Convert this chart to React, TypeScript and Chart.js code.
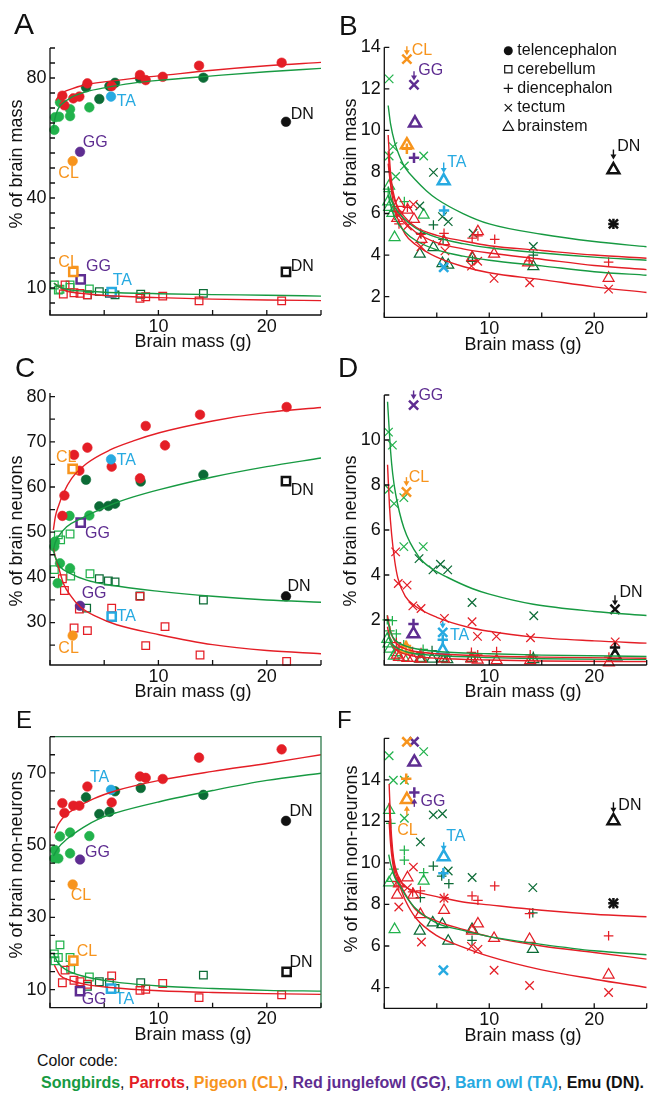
import React, { useEffect, useLayoutEffect, useRef } from 'react';
import { Chart, registerables } from 'chart.js';
Chart.register(...registerables);

type P = [number, number];
type Mk = 'circle' | 'rect' | 'cross' | 'crossRot' | 'triangle';

const FONT = '"Liberation Sans", Arial, Helvetica, sans-serif';
const RED = '#e41e26';
const LGREEN = '#22b24c';
const DGREEN = '#0c6b36';
const CGREEN = '#179a42';
const ORANGE = '#f7941d';
const PURPLE = '#5e2d91';
const BLUE = '#27aae1';
const BLACK = '#111111';
const FRAME = '#2f7a4c';

// ---------- axes ----------
const X_TICKS = [0, 5, 10, 15, 20, 25];
const X_LABELS = [10, 20];
const A_Y_TICKS = [5, 10, 15, 20, 25, 30, 35, 40, 45, 50, 55, 60, 65, 70, 75, 80, 85, 90];
const A_Y_LABELS = [10, 40, 80];
const B_Y_TICKS = [2, 4, 6, 8, 10, 12, 14];
const B_Y_LABELS = [2, 4, 6, 8, 10, 12, 14];
const C_Y_TICKS = [25, 30, 35, 40, 45, 50, 55, 60, 65, 70, 75, 80];
const C_Y_LABELS = [30, 40, 50, 60, 70, 80];
const D_Y_TICKS = [2, 4, 6, 8, 10, 12];
const D_Y_LABELS = [2, 4, 6, 8, 10];
const E_Y_TICKS = [10, 15, 20, 25, 30, 35, 40, 45, 50, 55, 60, 65, 70, 75, 80];
const E_Y_LABELS = [10, 30, 50, 70];
const F_Y_TICKS = [4, 6, 8, 10, 12, 14, 16];
const F_Y_LABELS = [4, 6, 8, 10, 12, 14];

// ---------- Panel A: % of brain mass (telencephalon / cerebellum) ----------
const A_telParrots: P[] = [[1.14, 74.1], [1.33, 70.9], [2.15, 73.2], [2.71, 73.8], [3.45, 78.2], [5.69, 77.3], [8.3, 81.0], [8.83, 79.3], [10.4, 80.4], [13.75, 84.1], [21.37, 85.1]];
const A_telSongLight: P[] = [[0.4, 62.7], [0.46, 66.9], [0.83, 67.1], [0.92, 71.9], [1.85, 69.6], [1.85, 67.3], [3.63, 70.2]];
const A_telSongDark: P[] = [[3.32, 76.9], [4.55, 73.0], [5.48, 77.3], [6.0, 78.4], [8.3, 79.9], [14.15, 80.1]];
const A_telCL: P[] = [[2.09, 52.3]];
const A_telGG: P[] = [[2.77, 55.4]];
const A_telTA: P[] = [[5.63, 73.8]];
const A_telDN: P[] = [[21.77, 65.4]];
const A_cbParrots: P[] = [[1.23, 8.0], [1.39, 11.0], [2.21, 8.4], [2.77, 8.2], [3.45, 7.7], [5.69, 8.2], [8.3, 6.6], [8.83, 7.1], [10.4, 7.3], [13.75, 5.7], [21.37, 5.7]];
const A_cbSongLight: P[] = [[0.4, 11.0], [0.77, 9.3], [0.92, 9.6], [1.85, 11.0], [1.85, 10.2], [3.63, 9.7]];
const A_cbSongDark: P[] = [[3.45, 7.7], [4.55, 8.8], [5.48, 8.2], [6.0, 7.7], [8.37, 7.9], [14.15, 8.2]];
const A_cbCL: P[] = [[2.15, 15.4]];
const A_cbGG: P[] = [[2.83, 12.9]];
const A_cbTA: P[] = [[5.69, 8.6]];
const A_cbDN: P[] = [[21.77, 15.4]];
const A_fitTelParrots: P[] = [[0.55, 72.5], [0.8, 74.0], [1.2, 75.2], [2, 76.4], [3.5, 77.9], [5, 78.7], [7.5, 79.8], [10, 80.7], [15, 82.6], [20, 84.1], [25, 85.2]];
const A_fitTelSong: P[] = [[0.3, 63.2], [0.45, 66.5], [0.7, 69.3], [1, 71.0], [2, 73.6], [3.5, 75.6], [5, 76.7], [7.5, 78.2], [10, 79.2], [15, 80.7], [20, 82.1], [25, 83.2]];
const A_fitCbSong: P[] = [[0.35, 11.6], [1, 10.1], [2, 9.3], [3.5, 8.9], [5, 8.6], [10, 8.1], [15, 7.8], [20, 7.6], [25, 7.3]];
const A_fitCbParrots: P[] = [[0.4, 11.6], [1, 10.0], [1.5, 9.0], [2, 8.6], [3.5, 8.0], [5, 7.5], [10, 6.8], [15, 6.3], [20, 6.0], [25, 5.8]];

// ---------- Panel B: % of brain mass (diencephalon / tectum / brainstem) ----------
const B_tectLight: P[] = [[0.46, 12.48], [0.46, 8.77], [0.83, 9.22], [1.08, 7.78], [1.91, 8.29], [3.75, 8.77]];
const B_dienLight: P[] = [[0.37, 7.05], [0.92, 6.1], [1.91, 6.57]];
const B_brainLight: P[] = [[0.37, 6.57], [0.46, 7.33], [0.46, 6.3], [0.77, 6.01], [0.98, 4.85], [3.75, 5.93]];
const B_tectDark: P[] = [[3.38, 6.36], [4.68, 7.98], [5.54, 5.85], [6.09, 5.61], [8.46, 5.05], [14.2, 4.41]];
const B_dienDark: P[] = [[3.45, 5.05], [4.68, 5.45], [5.6, 4.75], [8.4, 3.75], [14.2, 4.0]];
const B_brainDark: P[] = [[3.38, 4.05], [4.68, 4.37], [5.54, 3.6], [6.09, 3.52], [8.4, 3.85], [14.2, 3.45]];
const B_tectParrots: P[] = [[1.35, 5.9], [2.2, 5.4], [2.77, 6.44], [3.5, 4.4], [5.78, 4.2], [8.31, 3.47], [8.9, 3.7], [10.46, 2.88], [13.85, 2.67], [21.37, 2.36]];
const B_dienParrots: P[] = [[1.2, 6.1], [1.4, 5.5], [2.2, 6.3], [3.5, 5.0], [5.69, 5.05], [8.37, 4.81], [8.92, 4.92], [10.52, 4.76], [13.8, 3.72], [21.37, 3.66]];
const B_brainParrots: P[] = [[1.23, 5.77], [1.38, 6.49], [2.22, 6.17], [2.83, 5.72], [3.54, 4.76], [5.69, 4.65], [8.37, 3.89], [8.92, 5.13], [10.46, 4.05], [13.7, 3.63], [21.37, 2.89]];
const B_tectCL: P[] = [[2.15, 13.43]];
const B_dienCL: P[] = [[2.15, 9.12]];
const B_brainCL: P[] = [[2.15, 9.3]];
const B_tectGG: P[] = [[2.83, 12.2]];
const B_dienGG: P[] = [[2.83, 8.68]];
const B_brainGG: P[] = [[2.92, 10.35]];
const B_tectTA: P[] = [[5.66, 3.41]];
const B_dienTA: P[] = [[5.69, 6.14]];
const B_brainTA: P[] = [[5.66, 7.57]];
const B_tectDN: P[] = [[21.83, 5.5]];
const B_dienDN: P[] = [[21.83, 5.5]];
const B_brainDN: P[] = [[21.83, 8.1]];
const B_fitTectSong: P[] = [[0.37, 11.2], [0.6, 10.3], [1, 9.4], [1.5, 8.7], [2, 8.2], [3, 7.6], [4, 7.1], [5, 6.7], [7.5, 6.0], [10, 5.5], [15, 5.0], [20, 4.65], [25, 4.4]];
const B_fitDienParrots: P[] = [[0.37, 8.4], [0.6, 7.4], [1, 6.6], [2, 5.8], [3, 5.35], [5, 4.95], [7.5, 4.68], [10, 4.45], [15, 4.22], [20, 4.0], [25, 3.85]];
const B_fitDienSong: P[] = [[0.37, 7.3], [0.6, 6.8], [1, 6.3], [2, 5.7], [3, 5.3], [5, 4.85], [7.5, 4.55], [10, 4.35], [15, 4.1], [20, 3.9], [25, 3.75]];
const B_fitBrainParrots: P[] = [[0.37, 9.78], [0.5, 8.6], [0.7, 7.5], [1, 6.7], [2, 5.6], [3, 5.1], [5, 4.6], [7.5, 4.3], [10, 4.1], [15, 3.8], [20, 3.5], [25, 3.3]];
const B_fitBrainSong: P[] = [[0.37, 6.9], [0.6, 6.4], [1, 5.8], [2, 5.1], [3, 4.7], [5, 4.25], [7.5, 3.95], [10, 3.75], [15, 3.48], [20, 3.2], [25, 3.03]];
const B_fitTectParrots: P[] = [[0.37, 9.0], [0.5, 8.0], [0.7, 7.0], [1, 6.2], [2, 5.0], [3, 4.5], [5, 3.9], [7.5, 3.45], [10, 3.15], [15, 2.82], [20, 2.47], [25, 2.2]];

// ---------- Panel C: % of brain neurons (telencephalon / cerebellum) ----------
const C_telParrots: P[] = [[1.14, 53.6], [1.33, 58.1], [2.22, 67.1], [2.71, 63.6], [3.45, 68.7], [5.69, 64.5], [8.3, 61.9], [8.83, 73.5], [10.61, 69.2], [13.84, 76.0], [21.83, 77.7]];
const C_telSongLight: P[] = [[0.4, 46.8], [0.46, 47.9], [0.71, 38.7], [0.92, 43.1], [1.85, 42.0], [1.8, 53.6], [3.63, 53.7]];
const C_telSongDark: P[] = [[3.32, 61.6], [4.55, 55.7], [5.38, 55.8], [6.0, 56.3], [8.37, 61.2], [14.15, 62.7]];
const C_telCL: P[] = [[2.09, 27.1]];
const C_telGG: P[] = [[2.77, 33.7]];
const C_telTA: P[] = [[5.63, 66.1]];
const C_telDN: P[] = [[21.77, 35.8]];
const C_cbParrots: P[] = [[1.14, 39.7], [1.33, 37.1], [2.22, 28.8], [2.71, 33.0], [3.45, 28.2], [5.69, 33.2], [8.3, 35.8], [8.83, 24.9], [10.61, 29.1], [13.84, 22.8], [21.83, 21.4]];
const C_cbSongLight: P[] = [[0.4, 41.7], [0.77, 49.4], [0.98, 48.3], [1.85, 49.6], [1.91, 40.3], [3.69, 40.8]];
const C_cbSongDark: P[] = [[3.38, 33.2], [4.55, 39.7], [5.38, 39.2], [6.0, 39.0], [8.3, 35.9], [14.15, 35.0]];
const C_cbCL: P[] = [[2.09, 64.0]];
const C_cbGG: P[] = [[2.83, 52.1]];
const C_cbTA: P[] = [[5.69, 31.3]];
const C_cbDN: P[] = [[21.77, 61.3]];
const C_fitTelParrots: P[] = [[0.31, 50.5], [0.5, 53.5], [0.77, 55.7], [1.23, 58.6], [2, 61.9], [3.38, 65.2], [5.54, 68.2], [7.69, 70.2], [10.09, 72.0], [15, 74.6], [20, 76.5], [25, 77.6]];
const C_fitTelSong: P[] = [[0.31, 46.1], [0.5, 47.8], [0.77, 49.0], [1.54, 51.2], [2.77, 52.9], [3.69, 54.0], [5.54, 56.0], [7.69, 57.8], [10.09, 59.4], [15, 62.2], [20, 64.5], [25, 66.4]];
const C_fitCbSong: P[] = [[0.31, 46.0], [0.46, 44.6], [0.92, 42.4], [1.85, 40.9], [3.38, 39.4], [5.54, 38.3], [10.09, 36.9], [15, 35.8], [20, 35.0], [25, 34.5]];
const C_fitCbParrots: P[] = [[0.31, 46.5], [0.5, 44.5], [0.77, 42.4], [1.23, 38.7], [1.85, 36.1], [2.77, 33.5], [4.3, 31.3], [6.15, 29.5], [10.09, 27.3], [15, 25.1], [20, 23.8], [25, 23.1]];

// ---------- Panel D: % of brain neurons (diencephalon / tectum / brainstem) ----------
const D_tectLight: P[] = [[0.4, 10.35], [0.46, 7.81], [0.77, 9.77], [0.93, 7.17], [1.86, 7.44], [1.86, 5.26], [3.71, 5.26]];
const D_tectDark: P[] = [[3.31, 4.73], [4.64, 4.23], [5.35, 4.48], [6.04, 4.23], [8.36, 2.78], [14.24, 2.19]];
const D_tectParrots: P[] = [[1.08, 5.03], [1.33, 3.62], [2.17, 3.55], [2.72, 2.63], [3.5, 2.51], [5.73, 2.07], [8.36, 1.92], [8.88, 1.27], [10.68, 1.27], [13.93, 1.21], [22.0, 1.03]];
const D_dienLight: P[] = [[0.28, 2.01], [0.53, 1.52], [0.77, 1.97], [1.15, 1.38], [1.85, 0.9], [3.7, 0.7]];
const D_dienDark: P[] = [[3.4, 0.5], [4.55, 0.64], [5.5, 0.55], [6.0, 0.45], [8.3, 0.39], [14.2, 0.39]];
const D_dienParrots: P[] = [[1.15, 1.0], [1.4, 0.8], [2.2, 0.75], [2.7, 0.6], [3.5, 0.55], [5.7, 0.6], [8.3, 0.56], [8.9, 0.45], [10.7, 0.6], [13.9, 0.45], [21.4, 0.35]];
const D_brainLight: P[] = [[0.28, 1.15], [0.4, 0.95], [0.53, 0.71], [0.9, 0.4], [1.15, 0.56], [1.83, 0.34], [3.6, 0.3]];
const D_brainDark: P[] = [[3.4, 0.27], [4.55, 0.27], [5.5, 0.3], [6.0, 0.25], [8.3, 0.3], [14.2, 0.25]];
const D_brainParrots: P[] = [[1.2, 0.45], [1.4, 0.35], [2.2, 0.3], [2.7, 0.3], [3.5, 0.27], [5.7, 0.27], [8.3, 0.27], [8.9, 0.22], [10.7, 0.2], [13.9, 0.2], [21.4, 0.1]];
const D_tectCL: P[] = [[2.11, 7.69]];
const D_dienCL: P[] = [[2.07, 0.85]];
const D_brainCL: P[] = [[2.07, 0.71]];
const D_tectGG: P[] = [[2.79, 11.55]];
const D_dienGG: P[] = [[2.78, 1.82]];
const D_brainGG: P[] = [[2.78, 1.38]];
const D_tectTA: P[] = [[5.57, 1.45]];
const D_dienTA: P[] = [[5.57, 1.12]];
const D_brainTA: P[] = [[5.57, 0.64]];
const D_tectDN: P[] = [[21.98, 2.48]];
const D_dienDN: P[] = [[21.98, 0.78]];
const D_brainDN: P[] = [[21.98, 0.41]];
const D_fitTectSong: P[] = [[0.31, 11.7], [0.45, 10.6], [0.6, 9.5], [0.8, 8.5], [1.08, 7.6], [1.86, 6.1], [3.3, 4.8], [4.6, 4.26], [6, 3.9], [8.36, 3.4], [10, 3.15], [14.2, 2.7], [20, 2.38], [25, 2.2]];
const D_fitTectParrots: P[] = [[0.31, 8.9], [0.5, 7.0], [0.7, 5.8], [1, 4.6], [1.3, 3.85], [2, 3.05], [3, 2.6], [5, 2.12], [8, 1.68], [10, 1.5], [14, 1.25], [20, 1.07], [25, 0.97]];
const D_fitDienSong: P[] = [[0.3, 2.0], [0.6, 1.45], [1, 1.12], [2, 0.85], [3, 0.72], [5, 0.6], [10, 0.5], [15, 0.44], [25, 0.38]];
const D_fitDienParrots: P[] = [[0.3, 2.2], [0.6, 1.5], [1, 1.05], [2, 0.72], [3, 0.6], [5, 0.5], [10, 0.4], [15, 0.35], [25, 0.3]];
const D_fitBrainSong: P[] = [[0.3, 1.45], [0.6, 1.05], [1, 0.82], [2, 0.6], [3, 0.5], [5, 0.42], [10, 0.33], [15, 0.28], [25, 0.24]];
const D_fitBrainParrots: P[] = [[0.3, 1.7], [0.6, 1.05], [1, 0.72], [2, 0.48], [3, 0.38], [5, 0.3], [10, 0.22], [15, 0.18], [25, 0.15]];

// ---------- Panel E: % of brain non-neurons (telencephalon / cerebellum) ----------
const E_telParrots: P[] = [[1.14, 61.6], [1.33, 58.9], [2.15, 60.9], [2.71, 60.9], [3.45, 66.2], [5.69, 61.8], [8.3, 69.0], [8.83, 68.6], [10.4, 68.3], [13.75, 74.2], [21.37, 76.5]];
const E_telSongLight: P[] = [[0.4, 46.3], [0.46, 48.6], [0.77, 46.3], [0.92, 52.4], [1.85, 53.5], [1.85, 47.7], [3.63, 52.5]];
const E_telSongDark: P[] = [[3.32, 63.2], [4.55, 58.6], [5.48, 59.2], [6.0, 64.9], [8.37, 65.8], [14.15, 63.9]];
const E_telCL: P[] = [[2.09, 39.1]];
const E_telGG: P[] = [[2.77, 46.0]];
const E_telTA: P[] = [[5.63, 65.3]];
const E_telDN: P[] = [[21.77, 56.7]];
const E_cbParrots: P[] = [[1.14, 11.9], [1.39, 15.4], [2.21, 12.6], [2.77, 12.2], [3.45, 11.5], [5.69, 13.8], [8.3, 9.8], [8.83, 10.1], [10.4, 11.7], [13.75, 7.8], [21.37, 8.6]];
const E_cbSongLight: P[] = [[0.4, 19.9], [0.46, 18.0], [0.77, 18.9], [0.92, 22.4], [1.85, 18.9], [1.91, 15.6], [3.63, 13.5]];
const E_cbSongDark: P[] = [[3.45, 10.9], [4.55, 12.2], [5.48, 11.9], [6.0, 10.3], [8.37, 11.9], [14.15, 14.0]];
const E_cbCL: P[] = [[2.15, 18.0]];
const E_cbGG: P[] = [[2.77, 9.6]];
const E_cbTA: P[] = [[5.63, 10.3]];
const E_cbDN: P[] = [[21.83, 14.9]];
const E_fitTelParrots: P[] = [[0.4, 53.3], [0.77, 55.8], [1.38, 58.1], [2.46, 60.4], [4, 62.8], [6.15, 65.1], [10.09, 67.9], [15, 70.4], [20, 72.6], [25, 75.0]];
const E_fitTelSong: P[] = [[0.31, 47.0], [0.77, 49.3], [1.54, 51.6], [3.08, 54.9], [4.61, 57.4], [6.15, 59.0], [10.09, 62.0], [15, 65.1], [20, 67.9], [25, 69.9]];
const E_fitCbSong: P[] = [[0.31, 20.0], [0.77, 17.3], [1.54, 15.4], [3.08, 13.7], [5.54, 12.3], [10.09, 11.0], [15, 10.3], [20, 9.8], [25, 9.6]];
const E_fitCbParrots: P[] = [[0.4, 16.8], [0.92, 14.0], [1.85, 12.6], [3.38, 11.4], [5.54, 10.6], [10.09, 9.7], [15, 9.2], [20, 8.9], [25, 8.7]];

// ---------- Panel F: % of brain non-neurons (diencephalon / tectum / brainstem) ----------
const F_tectLight: P[] = [[0.46, 15.16], [0.86, 13.98], [1.91, 13.98], [1.91, 12.15], [3.75, 15.36]];
const F_tectDark: P[] = [[3.44, 11.01], [4.67, 12.31], [5.54, 12.37], [6.09, 9.61], [8.37, 9.3], [14.15, 8.81]];
const F_tectParrots: P[] = [[1.38, 7.88], [2.2, 8.8], [2.77, 9.8], [3.54, 6.19], [5.69, 8.3], [8.3, 5.98], [8.92, 5.84], [10.46, 4.83], [13.84, 4.1], [21.37, 3.76]];
const F_dienLight: P[] = [[0.62, 11.9], [0.92, 9.7], [1.91, 10.61], [1.91, 10.13], [3.75, 9.53]];
const F_dienDark: P[] = [[3.44, 8.33], [4.67, 9.85], [5.47, 9.37], [6.15, 9.0], [8.36, 6.27], [14.15, 7.6]];
const F_dienParrots: P[] = [[1.2, 9.1], [1.38, 8.89], [2.7, 8.6], [3.44, 8.65], [5.69, 8.33], [8.36, 8.41], [8.92, 8.2], [10.52, 8.89], [13.84, 7.56], [21.37, 6.49]];
const F_brainLight: P[] = [[0.46, 12.54], [0.46, 9.05], [0.77, 9.26], [0.98, 6.8], [3.75, 9.13]];
const F_brainDark: P[] = [[3.38, 6.72], [4.61, 7.12], [5.53, 7.04], [6.09, 6.24], [8.36, 6.8], [14.15, 5.84]];
const F_brainParrots: P[] = [[1.23, 8.46], [1.4, 9.0], [2.21, 9.29], [2.77, 8.46], [3.44, 7.52], [5.69, 7.72], [8.36, 6.72], [8.92, 7.07], [10.46, 6.37], [13.84, 6.32], [21.37, 4.61]];
const F_tectCL: P[] = [[2.15, 15.83]];
const F_dienCL: P[] = [[2.09, 14.05]];
const F_brainCL: P[] = [[2.15, 13.05]];
const F_tectGG: P[] = [[2.83, 15.83]];
const F_dienGG: P[] = [[2.86, 13.39]];
const F_brainGG: P[] = [[2.86, 14.85]];
const F_tectTA: P[] = [[5.63, 4.83]];
const F_dienTA: P[] = [[5.63, 9.5]];
const F_brainTA: P[] = [[5.66, 10.29]];
const F_tectDN: P[] = [[21.83, 8.06]];
const F_dienDN: P[] = [[21.83, 8.06]];
const F_brainDN: P[] = [[21.83, 12.03]];
const F_fitDienParrots: P[] = [[0.46, 13.8], [0.6, 12.0], [0.8, 10.6], [1, 9.9], [1.5, 9.15], [2, 8.85], [3, 8.62], [5, 8.38], [7.5, 8.12], [10, 7.98], [15, 7.72], [20, 7.53], [25, 7.41]];
const F_fitBrainParrots: P[] = [[0.46, 12.9], [0.6, 11.4], [0.8, 10.3], [1, 9.7], [1.5, 9.0], [2, 8.5], [3, 7.75], [5, 7.2], [7.5, 6.8], [10, 6.45], [15, 6.0], [20, 5.69], [25, 5.37]];
const F_fitTectParrots: P[] = [[0.46, 12.0], [0.6, 10.9], [0.8, 10.0], [1, 9.45], [1.5, 8.85], [2, 8.2], [3, 7.35], [5, 6.5], [7.5, 5.95], [10, 5.5], [15, 4.85], [20, 4.4], [25, 4.0]];
const F_fitSong: P[] = [[0.42, 10.4], [0.6, 9.95], [1, 9.3], [1.5, 8.9], [2, 8.45], [3, 7.8], [5, 7.1], [7.5, 6.75], [10, 6.45], [15, 6.08], [20, 5.77], [25, 5.58]];

// ---------- legend / colour code text ----------
const LEGEND_NAMES = ['telencephalon', 'cerebellum', 'diencephalon', 'tectum', 'brainstem'];
const LEGEND_MARKS: Mk[] = ['circle', 'rect', 'cross', 'crossRot', 'triangle'];
const CODE_NAMES = ['Songbirds', 'Parrots', 'Pigeon (CL)', 'Red junglefowl (GG)', 'Barn owl (TA)', 'Emu (DN)'];
const CODE_COLORS = [CGREEN, RED, ORANGE, PURPLE, BLUE, BLACK];

// ---------- types ----------
interface S { d: P[]; c: string; m: Mk; bold?: boolean }
interface Ann { t: string; x: number; y: number; c: string }
interface Arw { x: number; y1: number; y2: number; c: string }
interface Panel {
  letter: string; letterSize: number; letterX: number; letterY: number;
  left: number; top: number; width: number; height: number;
  area: { l: number; t: number; r: number; b: number };
  yMin: number; yMax: number; yTicks: number[]; yLabels: number[];
  yTitle: string; yTitleX: number; yTitleY: number;
  curves: { d: P[]; c: string }[];
  series: S[];
  anns: Ann[]; arrows: Arw[];
  legend?: boolean; frame?: boolean;
}

const MARK_R: Record<Mk, number> = { circle: 4.8, rect: 5.4, cross: 4.8, crossRot: 6.0, triangle: 6.3 };

const triple = (tect: P[], dien: P[], brain: P[], c: string, bold?: boolean): S[] => [
  { d: tect, c, m: 'crossRot', bold }, { d: dien, c, m: 'cross', bold }, { d: brain, c, m: 'triangle', bold },
];

const PANELS: Panel[] = [
  {
    letter: 'A', letterSize: 30, letterX: 14, letterY: 34,
    left: 0, top: 0, width: 330, height: 360, area: { l: 50, t: 48, r: 321, b: 315 },
    yMin: 1, yMax: 90, yTicks: A_Y_TICKS, yLabels: A_Y_LABELS,
    yTitle: '% of brain mass', yTitleX: 17, yTitleY: 164,
    curves: [{ d: A_fitTelParrots, c: RED }, { d: A_fitTelSong, c: CGREEN }, { d: A_fitCbSong, c: CGREEN }, { d: A_fitCbParrots, c: RED }],
    series: [
      { d: A_telCL, c: ORANGE, m: 'circle' }, { d: A_telGG, c: PURPLE, m: 'circle' }, { d: A_telTA, c: BLUE, m: 'circle' }, { d: A_telDN, c: BLACK, m: 'circle' },
      { d: A_cbCL, c: ORANGE, m: 'rect', bold: true }, { d: A_cbGG, c: PURPLE, m: 'rect', bold: true }, { d: A_cbTA, c: BLUE, m: 'rect', bold: true }, { d: A_cbDN, c: BLACK, m: 'rect', bold: true },
      { d: A_telParrots, c: RED, m: 'circle' }, { d: A_telSongDark, c: DGREEN, m: 'circle' }, { d: A_telSongLight, c: LGREEN, m: 'circle' },
      { d: A_cbParrots, c: RED, m: 'rect' }, { d: A_cbSongDark, c: DGREEN, m: 'rect' }, { d: A_cbSongLight, c: LGREEN, m: 'rect' },
    ],
    anns: [
      { t: 'TA', x: 6.15, y: 72, c: BLUE }, { t: 'DN', x: 22.2, y: 67.7, c: BLACK }, { t: 'GG', x: 3.02, y: 58.5, c: PURPLE }, { t: 'CL', x: 0.77, y: 48, c: ORANGE },
      { t: 'CL', x: 0.77, y: 18.5, c: ORANGE }, { t: 'GG', x: 3.32, y: 17.3, c: PURPLE }, { t: 'TA', x: 5.78, y: 12.4, c: BLUE }, { t: 'DN', x: 22.2, y: 17.3, c: BLACK },
    ],
    arrows: [],
  },
  {
    letter: 'B', letterSize: 28, letterX: 339, letterY: 35,
    left: 330, top: 0, width: 326, height: 360, area: { l: 384.3, t: 47.3, r: 655.5, b: 317.4 },
    yMin: 1, yMax: 14, yTicks: B_Y_TICKS, yLabels: B_Y_LABELS,
    yTitle: '% of brain mass', yTitleX: 351, yTitleY: 163,
    curves: [
      { d: B_fitTectSong, c: CGREEN }, { d: B_fitDienParrots, c: RED }, { d: B_fitDienSong, c: CGREEN },
      { d: B_fitBrainParrots, c: RED }, { d: B_fitBrainSong, c: CGREEN }, { d: B_fitTectParrots, c: RED },
    ],
    series: [
      ...triple(B_tectCL, B_dienCL, B_brainCL, ORANGE, true), ...triple(B_tectGG, B_dienGG, B_brainGG, PURPLE, true),
      ...triple(B_tectTA, B_dienTA, B_brainTA, BLUE, true), ...triple(B_tectDN, B_dienDN, B_brainDN, BLACK, true),
      ...triple(B_tectParrots, B_dienParrots, B_brainParrots, RED), ...triple(B_tectDark, B_dienDark, B_brainDark, DGREEN),
      ...triple(B_tectLight, B_dienLight, B_brainLight, LGREEN),
    ],
    anns: [{ t: 'CL', x: 2.62, y: 13.83, c: ORANGE }, { t: 'GG', x: 3.23, y: 12.87, c: PURPLE }, { t: 'TA', x: 6.0, y: 8.45, c: BLUE }, { t: 'DN', x: 22.2, y: 9.22, c: BLACK }],
    arrows: [{ x: 2.15, y1: 14.05, y2: 13.62, c: ORANGE }, { x: 2.83, y1: 12.85, y2: 12.4, c: PURPLE }, { x: 5.66, y1: 8.45, y2: 7.95, c: BLUE }, { x: 21.83, y1: 9.08, y2: 8.6, c: BLACK }],
    legend: true,
  },
  {
    letter: 'C', letterSize: 28, letterX: 15, letterY: 377,
    left: 0, top: 345, width: 330, height: 362, area: { l: 50, t: 393, r: 321, b: 665 },
    yMin: 20.6, yMax: 80.8, yTicks: C_Y_TICKS, yLabels: C_Y_LABELS,
    yTitle: '% of brain neurons', yTitleX: 17, yTitleY: 531,
    curves: [{ d: C_fitTelParrots, c: RED }, { d: C_fitTelSong, c: CGREEN }, { d: C_fitCbSong, c: CGREEN }, { d: C_fitCbParrots, c: RED }],
    series: [
      { d: C_telCL, c: ORANGE, m: 'circle' }, { d: C_telGG, c: PURPLE, m: 'circle' }, { d: C_telTA, c: BLUE, m: 'circle' }, { d: C_telDN, c: BLACK, m: 'circle' },
      { d: C_cbCL, c: ORANGE, m: 'rect', bold: true }, { d: C_cbGG, c: PURPLE, m: 'rect', bold: true }, { d: C_cbTA, c: BLUE, m: 'rect', bold: true }, { d: C_cbDN, c: BLACK, m: 'rect', bold: true },
      { d: C_telParrots, c: RED, m: 'circle' }, { d: C_telSongDark, c: DGREEN, m: 'circle' }, { d: C_telSongLight, c: LGREEN, m: 'circle' },
      { d: C_cbParrots, c: RED, m: 'rect' }, { d: C_cbSongDark, c: DGREEN, m: 'rect' }, { d: C_cbSongLight, c: LGREEN, m: 'rect' },
    ],
    anns: [
      { t: 'CL', x: 0.55, y: 66.5, c: ORANGE }, { t: 'TA', x: 6.15, y: 65.8, c: BLUE }, { t: 'DN', x: 22.2, y: 59.2, c: BLACK }, { t: 'GG', x: 3.23, y: 49.6, c: PURPLE },
      { t: 'DN', x: 21.9, y: 37.9, c: BLACK }, { t: 'GG', x: 2.92, y: 36.4, c: PURPLE }, { t: 'TA', x: 6.15, y: 31.3, c: BLUE }, { t: 'CL', x: 0.77, y: 24.2, c: ORANGE },
    ],
    arrows: [],
  },
  {
    letter: 'D', letterSize: 28, letterX: 338, letterY: 377,
    left: 330, top: 345, width: 326, height: 362, area: { l: 384.3, t: 395, r: 655.5, b: 665 },
    yMin: 0, yMax: 12, yTicks: D_Y_TICKS, yLabels: D_Y_LABELS,
    yTitle: '% of brain neurons', yTitleX: 351, yTitleY: 531,
    curves: [
      { d: D_fitTectSong, c: CGREEN }, { d: D_fitTectParrots, c: RED }, { d: D_fitDienSong, c: CGREEN },
      { d: D_fitDienParrots, c: RED }, { d: D_fitBrainSong, c: CGREEN }, { d: D_fitBrainParrots, c: RED },
    ],
    series: [
      ...triple(D_tectCL, D_dienCL, D_brainCL, ORANGE, true), ...triple(D_tectGG, D_dienGG, D_brainGG, PURPLE, true),
      ...triple(D_tectTA, D_dienTA, D_brainTA, BLUE, true), ...triple(D_tectDN, D_dienDN, D_brainDN, BLACK, true),
      ...triple(D_tectParrots, D_dienParrots, D_brainParrots, RED), ...triple(D_tectDark, D_dienDark, D_brainDark, DGREEN),
      ...triple(D_tectLight, D_dienLight, D_brainLight, LGREEN),
    ],
    anns: [{ t: 'GG', x: 3.25, y: 11.98, c: PURPLE }, { t: 'CL', x: 2.32, y: 8.33, c: ORANGE }, { t: 'TA', x: 6.25, y: 1.3, c: BLUE }, { t: 'DN', x: 22.4, y: 3.23, c: BLACK }],
    arrows: [{ x: 2.79, y1: 12.2, y2: 11.8, c: PURPLE }, { x: 2.11, y1: 8.35, y2: 7.95, c: ORANGE }, { x: 5.57, y1: 1.95, y2: 1.62, c: BLUE }, { x: 21.98, y1: 3.1, y2: 2.65, c: BLACK }],
  },
  {
    letter: 'E', letterSize: 24, letterX: 16, letterY: 728,
    left: 0, top: 700, width: 330, height: 350, area: { l: 50, t: 736.7, r: 321, b: 1007.7 },
    yMin: 5, yMax: 80, yTicks: E_Y_TICKS, yLabels: E_Y_LABELS,
    yTitle: '% of brain non-neurons', yTitleX: 17, yTitleY: 865,
    curves: [{ d: E_fitTelParrots, c: RED }, { d: E_fitTelSong, c: CGREEN }, { d: E_fitCbSong, c: CGREEN }, { d: E_fitCbParrots, c: RED }],
    series: [
      { d: E_telCL, c: ORANGE, m: 'circle' }, { d: E_telGG, c: PURPLE, m: 'circle' }, { d: E_telTA, c: BLUE, m: 'circle' }, { d: E_telDN, c: BLACK, m: 'circle' },
      { d: E_cbCL, c: ORANGE, m: 'rect', bold: true }, { d: E_cbGG, c: PURPLE, m: 'rect', bold: true }, { d: E_cbTA, c: BLUE, m: 'rect', bold: true }, { d: E_cbDN, c: BLACK, m: 'rect', bold: true },
      { d: E_telParrots, c: RED, m: 'circle' }, { d: E_telSongDark, c: DGREEN, m: 'circle' }, { d: E_telSongLight, c: LGREEN, m: 'circle' },
      { d: E_cbParrots, c: RED, m: 'rect' }, { d: E_cbSongDark, c: DGREEN, m: 'rect' }, { d: E_cbSongLight, c: LGREEN, m: 'rect' },
    ],
    anns: [
      { t: 'TA', x: 3.69, y: 68.6, c: BLUE }, { t: 'DN', x: 22.1, y: 59.4, c: BLACK }, { t: 'GG', x: 3.23, y: 47.9, c: PURPLE }, { t: 'CL', x: 1.91, y: 36.0, c: ORANGE },
      { t: 'CL', x: 2.46, y: 20.5, c: ORANGE }, { t: 'DN', x: 22.1, y: 17.4, c: BLACK }, { t: 'GG', x: 2.92, y: 7.3, c: PURPLE }, { t: 'TA', x: 5.99, y: 7.3, c: BLUE },
    ],
    arrows: [],
    frame: true,
  },
  {
    letter: 'F', letterSize: 24, letterX: 337, letterY: 728,
    left: 330, top: 700, width: 326, height: 350, area: { l: 384.3, t: 738.3, r: 655.5, b: 1008.3 },
    yMin: 3, yMax: 16, yTicks: F_Y_TICKS, yLabels: F_Y_LABELS,
    yTitle: '% of brain non-neurons', yTitleX: 352, yTitleY: 859,
    curves: [{ d: F_fitDienParrots, c: RED }, { d: F_fitSong, c: CGREEN }, { d: F_fitBrainParrots, c: RED }, { d: F_fitTectParrots, c: RED }],
    series: [
      ...triple(F_tectCL, F_dienCL, F_brainCL, ORANGE, true), ...triple(F_tectGG, F_dienGG, F_brainGG, PURPLE, true),
      ...triple(F_tectTA, F_dienTA, F_brainTA, BLUE, true), ...triple(F_tectDN, F_dienDN, F_brainDN, BLACK, true),
      ...triple(F_tectParrots, F_dienParrots, F_brainParrots, RED), ...triple(F_tectDark, F_dienDark, F_brainDark, DGREEN),
      ...triple(F_tectLight, F_dienLight, F_brainLight, LGREEN),
    ],
    anns: [{ t: 'GG', x: 3.45, y: 12.95, c: PURPLE }, { t: 'CL', x: 1.24, y: 11.54, c: ORANGE }, { t: 'TA', x: 5.9, y: 11.29, c: BLUE }, { t: 'DN', x: 22.3, y: 12.77, c: BLACK }],
    arrows: [{ x: 2.86, y1: 12.7, y2: 13.1, c: PURPLE }, { x: 2.15, y1: 12.3, y2: 12.75, c: ORANGE }, { x: 5.66, y1: 11.0, y2: 10.58, c: BLUE }, { x: 21.83, y1: 12.92, y2: 12.42, c: BLACK }],
  },
];

// ---------- drawing helpers ----------
function drawMark(ctx: CanvasRenderingContext2D, m: Mk, x: number, y: number) {
  ctx.beginPath();
  if (m === 'circle') { ctx.arc(x, y, 4.5, 0, Math.PI * 2); ctx.fill(); return; }
  if (m === 'rect') { ctx.rect(x - 3.6, y - 3.6, 7.2, 7.2); }
  if (m === 'cross') { ctx.moveTo(x - 4.6, y); ctx.lineTo(x + 4.6, y); ctx.moveTo(x, y - 4.6); ctx.lineTo(x, y + 4.6); }
  if (m === 'crossRot') { ctx.moveTo(x - 3.6, y - 3.6); ctx.lineTo(x + 3.6, y + 3.6); ctx.moveTo(x + 3.6, y - 3.6); ctx.lineTo(x - 3.6, y + 3.6); }
  if (m === 'triangle') { ctx.moveTo(x, y - 5.5); ctx.lineTo(x + 5.2, y + 3.6); ctx.lineTo(x - 5.2, y + 3.6); ctx.closePath(); }
  ctx.stroke();
}

function makeConfig(p: Panel): any {
  const padTop = p.area.t - p.top;
  const padRight = p.left + p.width - p.area.r;
  const yW = p.area.l - p.left;
  const xH = p.top + p.height - p.area.b;

  const curveSets = p.curves.map((c) => ({
    type: 'line', data: c.d.map(([x, y]) => ({ x, y })), borderColor: c.c, backgroundColor: c.c,
    borderWidth: 1.4, pointRadius: 0, pointHoverRadius: 0, fill: false, showLine: true, cubicInterpolationMode: 'monotone',
  }));
  const pointSets = p.series.map((s) => {
    const filled = s.m === 'circle';
    const r = MARK_R[s.m] * (s.bold ? 1.08 : 1);
    return {
      type: 'scatter', data: s.d.map(([x, y]) => ({ x, y })), showLine: false, clip: false,
      pointStyle: s.m, pointRadius: r, pointHoverRadius: r,
      pointBorderWidth: s.bold ? 2.5 : filled ? 0.6 : 1.25,
      pointBorderColor: s.c, borderColor: s.c,
      pointBackgroundColor: filled ? s.c : s.bold ? '#ffffff' : 'rgba(255,255,255,0)',
      backgroundColor: filled ? s.c : 'rgba(255,255,255,0)',
    };
  });

  const decor = {
    id: 'decor' + p.letter,
    afterDraw(chart: any) {
      const ctx: CanvasRenderingContext2D = chart.ctx;
      const a = chart.chartArea;
      const xs = chart.scales.x;
      const ys = chart.scales.y;
      const ox = p.left;
      const oy = p.top;
      ctx.save();
      ctx.lineWidth = 1.3;
      if (p.frame) {
        ctx.strokeStyle = FRAME;
        ctx.beginPath(); ctx.moveTo(a.left, a.top); ctx.lineTo(a.right, a.top); ctx.lineTo(a.right, a.bottom); ctx.stroke();
      }
      ctx.strokeStyle = BLACK;
      ctx.beginPath(); ctx.moveTo(a.left, a.top); ctx.lineTo(a.left, a.bottom); ctx.lineTo(a.right, a.bottom); ctx.stroke();
      ctx.beginPath();
      p.yTicks.forEach((v) => { const y = ys.getPixelForValue(v); ctx.moveTo(a.left, y); ctx.lineTo(a.left + 5, y); });
      X_TICKS.forEach((v) => { const x = xs.getPixelForValue(v); ctx.moveTo(x, a.bottom); ctx.lineTo(x, a.bottom - 5); });
      ctx.stroke();

      ctx.fillStyle = BLACK;
      ctx.textAlign = 'left'; ctx.textBaseline = 'alphabetic';
      ctx.font = `${p.letterSize}px ${FONT}`;
      ctx.fillText(p.letter, p.letterX - ox, p.letterY - oy);

      ctx.font = `18px ${FONT}`;
      ctx.textAlign = 'center'; ctx.textBaseline = 'middle';
      ctx.fillText('Brain mass (g)', (a.left + a.right) / 2 + 7.5, a.bottom + 27.5);
      ctx.save();
      ctx.translate(p.yTitleX - ox, p.yTitleY - oy);
      ctx.rotate(-Math.PI / 2);
      ctx.fillText(p.yTitle, 0, 0);
      ctx.restore();

      ctx.font = `16px ${FONT}`;
      ctx.textAlign = 'left'; ctx.textBaseline = 'middle';
      p.anns.forEach((n) => { ctx.fillStyle = n.c; ctx.fillText(n.t, xs.getPixelForValue(n.x), ys.getPixelForValue(n.y)); });

      p.arrows.forEach((w) => {
        const x = xs.getPixelForValue(w.x);
        const y1 = ys.getPixelForValue(w.y1);
        const y2 = ys.getPixelForValue(w.y2);
        const dir = y2 > y1 ? 1 : -1;
        ctx.strokeStyle = w.c; ctx.fillStyle = w.c; ctx.lineWidth = 1.4;
        ctx.beginPath(); ctx.moveTo(x, y1); ctx.lineTo(x, y2 - dir * 4); ctx.stroke();
        ctx.beginPath(); ctx.moveTo(x, y2); ctx.lineTo(x - 3, y2 - dir * 5); ctx.lineTo(x + 3, y2 - dir * 5); ctx.closePath(); ctx.fill();
      });

      if (p.legend) {
        const rows = [50.7, 69.3, 88.3, 107.7, 126.7];
        ctx.font = `16px ${FONT}`;
        ctx.strokeStyle = BLACK; ctx.fillStyle = BLACK; ctx.lineWidth = 1.2;
        LEGEND_NAMES.forEach((name, i) => {
          drawMark(ctx, LEGEND_MARKS[i], 508.3 - ox, rows[i] - oy);
          ctx.fillText(name, 517.3 - ox, rows[i] - oy);
        });
      }
      ctx.restore();
    },
  };

  return {
    type: 'scatter',
    data: { datasets: [...curveSets, ...pointSets] },
    options: {
      animation: false, responsive: false, maintainAspectRatio: false, events: [],
      layout: { padding: { top: padTop, right: padRight, bottom: 0, left: 0 } },
      plugins: { legend: { display: false }, tooltip: { enabled: false }, title: { display: false } },
      scales: {
        x: {
          type: 'linear', min: 0, max: 25,
          grid: { display: false, drawTicks: false }, border: { display: false },
          afterBuildTicks: (s: any) => { s.ticks = X_TICKS.map((v) => ({ value: v })); },
          afterFit: (s: any) => { s.height = xH; },
          ticks: {
            autoSkip: false, maxRotation: 0, padding: 1, color: BLACK,
            font: { family: FONT, size: 18 },
            callback: (v: any) => (X_LABELS.includes(Number(v)) ? String(v) : ''),
          },
        },
        y: {
          type: 'linear', min: p.yMin, max: p.yMax,
          grid: { display: false, drawTicks: false }, border: { display: false },
          afterBuildTicks: (s: any) => { s.ticks = p.yTicks.map((v) => ({ value: v })); },
          afterFit: (s: any) => { s.width = yW; },
          ticks: {
            autoSkip: false, padding: 3.5, color: BLACK,
            font: { family: FONT, size: 18 },
            callback: (v: any) => (p.yLabels.includes(Number(v)) ? String(v) : ''),
          },
        },
      },
    },
    plugins: [decor],
  };
}

function PanelChart({ p }: { p: Panel }) {
  const ref = useRef<HTMLCanvasElement>(null);
  useEffect(() => {
    if (!ref.current) return;
    const chart = new Chart(ref.current, makeConfig(p));
    return () => chart.destroy();
  }, [p]);
  return (
    <canvas ref={ref} width={p.width} height={p.height}
      style={{ position: 'absolute', left: p.left, top: p.top, width: p.width, height: p.height }} />
  );
}

function FitText({ left, top, width, children, style }: { left: number; top: number; width: number; children: any; style: any }) {
  const ref = useRef<HTMLDivElement>(null);
  useLayoutEffect(() => {
    const el = ref.current;
    if (!el) return;
    el.style.transform = 'none';
    const w = el.getBoundingClientRect().width;
    if (w > 0) el.style.transform = `scaleX(${width / w})`;
  }, [width]);
  return (
    <div ref={ref} style={{ position: 'absolute', left, top, whiteSpace: 'nowrap', transformOrigin: '0 50%', ...style }}>
      {children}
    </div>
  );
}

export default function App() {
  return (
    <div style={{ position: 'absolute', left: 0, top: 0, width: 656, height: 1094, background: '#ffffff', overflow: 'hidden' }}>
      {PANELS.map((p) => <PanelChart key={p.letter} p={p} />)}
      <FitText left={37} top={1051} width={81} style={{ font: `16px ${FONT}`, lineHeight: '20px', color: BLACK }}>
        Color code:
      </FitText>
      <FitText left={41} top={1073} width={603} style={{ font: `bold 16px ${FONT}`, lineHeight: '20px', color: BLACK }}>
        {CODE_NAMES.map((n, i) => (
          <span key={n}>
            <span style={{ color: CODE_COLORS[i] }}>{n}</span>
            {i < CODE_NAMES.length - 1 ? <span style={{ fontWeight: 'normal' }}>, </span> : '.'}
          </span>
        ))}
      </FitText>
    </div>
  );
}
